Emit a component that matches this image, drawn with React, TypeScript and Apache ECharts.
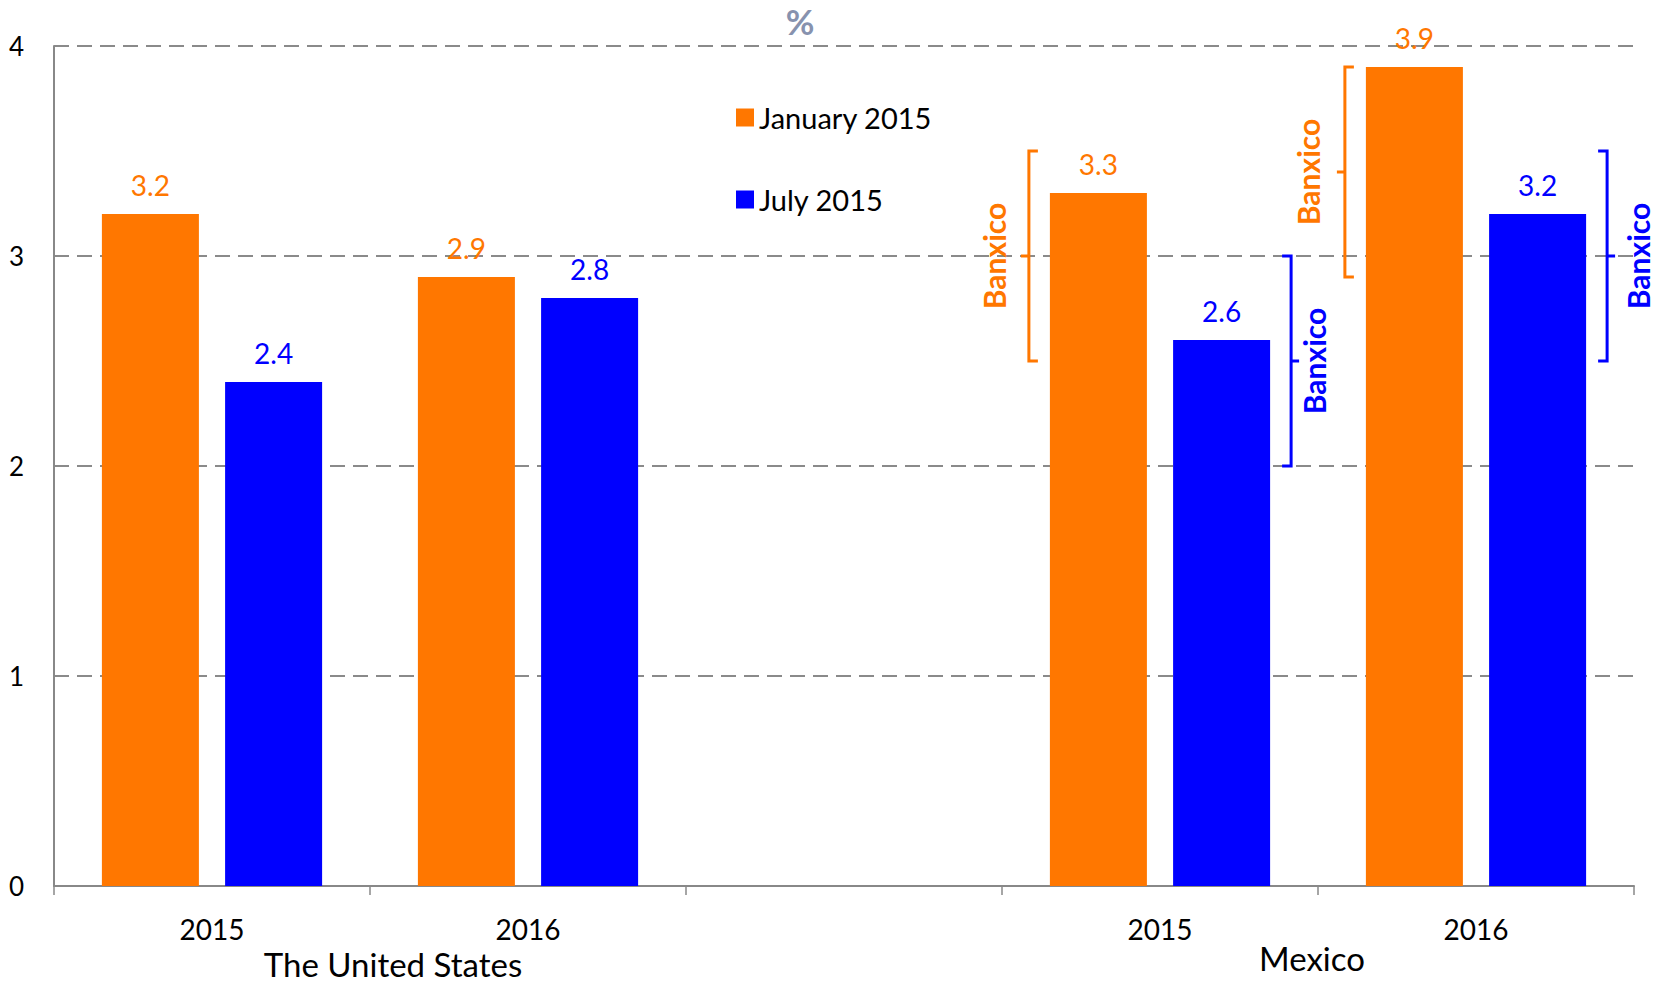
import React, { useEffect, useRef } from "react";
import * as echarts from "echarts";

const categories = ["2015", "2016", "", "2015", "2016"];
const january2015 = [3.2, 2.9, null, 3.3, 3.9];
const july2015 = [2.4, 2.8, null, 2.6, 3.2];
const yTicks = { min: 0, max: 4, interval: 1 };
// Banxico forecast ranges: [category index, low, high]
const banxicoJanuary = [
  [3, 2.5, 3.5],
  [4, 2.9, 3.9],
];
const banxicoJuly = [
  [3, 2.0, 3.0],
  [4, 2.5, 3.5],
];
const groupLabels = ["The United States", "Mexico"];

const ORANGE = "#FF7700";
const BLUE = "#0000FF";
const FONT = "Lato";
const BAR_W = 0.307;
const BAR_GAP = 0.27;

function makeBracket(side: "left" | "right", color: string, labelGaps: number[]) {
  return (params: any, api: any) => {
    const cat = api.value(0);
    const lo = api.value(1);
    const hi = api.value(2);
    const pLo = api.coord([cat, lo]);
    const pHi = api.coord([cat, hi]);
    const pMid = api.coord([cat, (lo + hi) / 2]);
    const band = api.size([1, 0])[0];
    const w = band * BAR_W;
    const g = w * BAR_GAP;
    const cx = pLo[0];
    const tick = 9;
    let bx: number, dir: number;
    if (side === "left") {
      bx = cx - w - g / 2 - 21;
      dir = 1;
    } else {
      bx = cx + w + g / 2 + 21;
      dir = -1;
    }
    const lg = labelGaps[params.dataIndex];
    return {
      type: "group",
      children: [
        {
          type: "polyline",
          shape: {
            points: [
              [bx + dir * tick, pHi[1]],
              [bx, pHi[1]],
              [bx, pLo[1]],
              [bx + dir * tick, pLo[1]],
            ],
          },
          style: { stroke: color, lineWidth: 3, fill: null },
        },
        {
          type: "line",
          shape: { x1: bx, y1: pMid[1], x2: bx - dir * 8, y2: pMid[1] },
          style: { stroke: color, lineWidth: 3 },
        },
        {
          type: "text",
          x: bx - dir * lg,
          y: pMid[1],
          rotation: Math.PI / 2,
          style: {
            text: "Banxico",
            fill: color,
            font: `bold 30px ${FONT}`,
            align: "center",
            verticalAlign: "middle",
          },
        },
      ],
    };
  };
}

export default function App() {
  const ref = useRef<HTMLDivElement>(null);
  useEffect(() => {
    if (!ref.current) return;
    const chart = echarts.init(ref.current, null, { renderer: "svg" });
    const labelStyle = (color: string) => ({
      show: true,
      position: "top",
      distance: 15,
      color,
      fontFamily: FONT,
      fontSize: 28,
    });
    chart.setOption({
      animation: false,
      backgroundColor: "#fff",
      textStyle: { fontFamily: FONT },
      title: {
        text: "%",
        left: 800,
        top: 3,
        textAlign: "center",
        padding: 0,
        textStyle: { color: "#8792AE", fontSize: 35, fontWeight: "bold", fontFamily: FONT },
      },
      legend: {
        data: ["January 2015", "July 2015"],
        orient: "vertical",
        left: 736,
        top: 103,
        padding: 0,
        itemWidth: 18,
        itemHeight: 18,
        itemGap: 53,
        icon: "rect",
        textStyle: { color: "#000", fontSize: 29, fontFamily: FONT },
      },
      grid: { left: 54, right: 22, top: 46, bottom: 97 },
      xAxis: {
        type: "category",
        data: categories,
        axisLine: { show: true, lineStyle: { color: "#888", width: 2 } },
        axisTick: { show: true, length: 9, lineStyle: { color: "#888", width: 1.5 } },
        axisLabel: { color: "#000", fontSize: 28, fontFamily: FONT, margin: 29 },
      },
      yAxis: {
        type: "value",
        min: yTicks.min,
        max: yTicks.max,
        interval: yTicks.interval,
        axisLine: { show: true, lineStyle: { color: "#888", width: 2 } },
        axisTick: { show: false },
        axisLabel: { color: "#000", fontSize: 26, fontFamily: FONT, margin: 30 },
        splitLine: { show: true, lineStyle: { color: "#8a8a8a", width: 2, type: [15, 8] } },
      },
      series: [
        {
          name: "January 2015",
          type: "bar",
          data: january2015,
          barWidth: `${BAR_W * 100}%`,
          barGap: `${BAR_GAP * 100}%`,
          itemStyle: { color: ORANGE },
          label: labelStyle(ORANGE),
        },
        {
          name: "July 2015",
          type: "bar",
          data: july2015,
          barWidth: `${BAR_W * 100}%`,
          barGap: `${BAR_GAP * 100}%`,
          itemStyle: { color: BLUE },
          label: labelStyle(BLUE),
        },
        {
          name: "Banxico January",
          type: "custom",
          data: banxicoJanuary,
          encode: { x: 0, y: [1, 2] },
          renderItem: makeBracket("left", ORANGE, [35, 37]),
          clip: false,
          z: 5,
        },
        {
          name: "Banxico July",
          type: "custom",
          data: banxicoJuly,
          encode: { x: 0, y: [1, 2] },
          renderItem: makeBracket("right", BLUE, [23, 31]),
          clip: false,
          z: 5,
        },
      ],
      graphic: [
        {
          type: "text",
          x: 393,
          y: 964,
          style: {
            text: groupLabels[0],
            fill: "#000",
            font: `33px ${FONT}`,
            align: "center",
            verticalAlign: "middle",
          },
        },
        {
          type: "text",
          x: 1312,
          y: 958,
          style: {
            text: groupLabels[1],
            fill: "#000",
            font: `33px ${FONT}`,
            align: "center",
            verticalAlign: "middle",
          },
        },
      ],
    });
    return () => chart.dispose();
  }, []);
  return (
    <div
      ref={ref}
      style={{ position: "absolute", left: 0, top: 0, width: 1656, height: 983 }}
    />
  );
}
